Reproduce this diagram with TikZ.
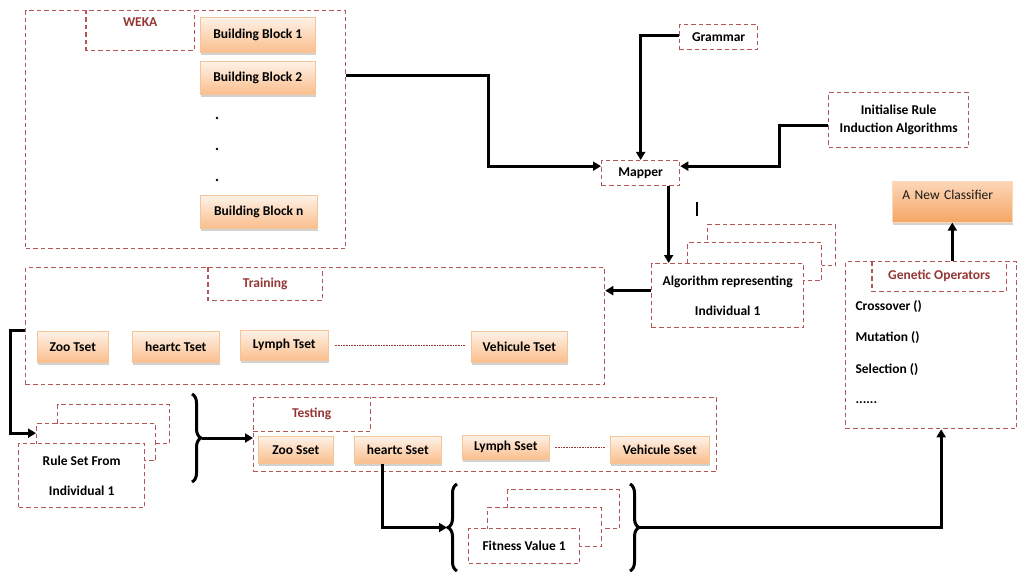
\documentclass[tikz,border=0pt]{standalone}
\usepackage{fontspec}
\setmainfont{Carlito}
\usetikzlibrary{arrows.meta,shadows,decorations.pathreplacing}
\definecolor{dashred}{RGB}{180,86,86}
\definecolor{labred}{RGB}{149,55,53}
\definecolor{blktop}{RGB}{254,242,232}
\definecolor{blkbot}{RGB}{250,190,140}
\definecolor{blkline}{RGB}{246,196,150}
\definecolor{ncTop}{RGB}{252,215,185}
\definecolor{ncBot}{RGB}{246,165,100}
\tikzset{
  fnt/.style={font=\fontsize{13.5}{16}\selectfont\bfseries},
  dline/.style={draw=dashred, dash pattern=on 4.5pt off 3pt, line width=1.3pt},
  dbox/.style={dline, fill=white, inner sep=0pt, anchor=north west, fnt},
  lbox/.style={inner sep=0pt, anchor=north west, fnt, text=labred},
  sz/.style 2 args={minimum width=#1pt, minimum height=#2pt},
  blk/.style={draw=blkline, line width=0.6pt, top color=blktop, bottom color=blkbot,
    drop shadow={shadow xshift=0.5pt, shadow yshift=-2.5pt, opacity=0.35, fill=gray},
    inner sep=0pt, anchor=north west, fnt},
  conn/.style={line width=3pt, -{Triangle[length=8pt,width=9pt]}},
  brc/.style={line width=3pt, decorate, decoration={brace, amplitude=9pt, aspect=0.5}},
  dotline/.style={draw=labred, line width=1pt, dash pattern=on 0.8pt off 0.8pt, shorten <=6pt, shorten >=6pt},
  item/.style={anchor=west, fnt},
  two/.style={align=center, font=\fontsize{13.5}{30}\selectfont\bfseries},
}
\begin{document}
\begin{tikzpicture}[x=1pt,y=-1pt]
\useasboundingbox (0,0) rectangle (1019,572);

% ---------- outer containers ----------
\node[dbox, sz={320}{238}] (weka) at (25,10) {};
\node[dbox, sz={579}{117}] (training) at (25,267) {};
\node[dbox, sz={463}{74}] (testing) at (253,397) {};
\node[dbox, sz={171}{167}] (gen) at (845,261) {};

% ---------- container labels ----------
\node[lbox, sz={108}{40}, text height=9pt, text depth=17pt, inner ysep=7pt] (wekalab) at (86,10) {WEKA};
\draw[dline] (wekalab.north west) -- (wekalab.south west) -- (wekalab.south east) -- (wekalab.north east);
\node[lbox, sz={114}{33}] (trainlab) at (208,267) {Training};
\draw[dline] (trainlab.north west) -- (trainlab.south west) -- (trainlab.south east) -- (trainlab.north east);
\node[lbox, sz={117}{34}] (testlab) at (253,397) {Testing};
\draw[dline] (testlab.south west) -- (testlab.south east) -- (testlab.north east);
\node[lbox, sz={134}{30}] (genlab) at (872,261) {Genetic Operators};
\draw[dline] (genlab.north west) -- (genlab.south west) -- (genlab.south east) -- (genlab.north east);

% ---------- WEKA building blocks ----------
\node[blk, sz={115}{35}] (bb1) at (200,17) {Building Block 1};
\node[blk, sz={115}{33}] (bb2) at (200,61) {Building Block 2};
\node[blk, sz={117}{33}] (bbn) at (200,195) {Building Block n};
\fill (217,118) circle (1.4pt);
\fill (217,149) circle (1.4pt);
\fill (217,180) circle (1.4pt);

% ---------- top right ----------
\node[dbox, sz={78}{25}] (grammar) at (679,24) {Grammar};
\node[dbox, sz={78}{25}] (mapper) at (601,160) {Mapper};
\node[dbox, sz={140}{55}, align=center, font=\fontsize{13.5}{18}\selectfont\bfseries] (init) at (828,92) {Initialise Rule\\Induction Algorithms};
\node[blk, sz={120}{41}, top color=ncTop, bottom color=ncBot, draw=ncTop,
      font=\fontsize{13.5}{16}\selectfont, text=black!90, align=left, text width=100pt,
      inner xsep=10pt, inner ysep=8pt, text height=10pt, text depth=15pt] (nc) at (892,181) {A New Classifier};

% ---------- algorithm stack ----------
\node[dbox, sz={128}{41}] (alg3) at (707,224) {};
\node[dbox, sz={134}{38}] (alg2) at (687,242) {};
\node[dbox, sz={152}{64}, two] (alg) at (651,263) {Algorithm representing\\Individual 1};
\draw[line width=1.6pt] (697,202) -- (697,216);

% ---------- training sets ----------
\node[blk, sz={71}{31}] (zooT) at (37,331) {Zoo Tset};
\node[blk, sz={87}{31}] (heartT) at (132,331) {heartc Tset};
\node[blk, sz={88}{30}] (lymphT) at (240,330) {Lymph Tset};
\node[blk, sz={96}{31}] (vehT) at (471,331) {Vehicule Tset};
\draw[dotline] (lymphT.east) -- (lymphT.east -| vehT.west);

% ---------- rule set stack ----------
\node[dbox, sz={112}{39}] (rs3) at (57,404) {};
\node[dbox, sz={119}{37}] (rs2) at (36,423) {};
\node[dbox, sz={126}{64}, two] (rs) at (18,443) {Rule Set From\\Individual 1};

% ---------- testing sets ----------
\node[blk, sz={75}{27}] (zooS) at (258,436) {Zoo Sset};
\node[blk, sz={87}{27}] (heartS) at (354,436) {heartc Sset};
\node[blk, sz={87}{24}] (lymphS) at (462,435) {Lymph Sset};
\node[blk, sz={99}{27}] (vehS) at (610,436) {Vehicule Sset};
\draw[dotline, shorten <=5pt, shorten >=5pt] (lymphS.east) -- (lymphS.east -| vehS.west);

% ---------- fitness stack ----------
\node[dbox, sz={112}{39}] (fit3) at (507,489) {};
\node[dbox, sz={114}{39}] (fit2) at (487,507) {};
\node[dbox, sz={111}{35}] (fit) at (468,528) {Fitness Value 1};

% ---------- genetic operators items ----------
\node[item] (cross) at (852,307) {Crossover ()};
\node[item] (mut) at (852,338) {Mutation ()};
\node[item] (sel) at (852,370) {Selection ()};
\node[item] (etc) at (852,403) {......};

% ---------- braces ----------
\draw[brc] (192,394) -- (192,482);
\coordinate (b1tip) at (202,438);
\draw[brc] (457,571) -- (457,484);
\coordinate (b2tip) at (447,527.5);
\draw[brc] (630,484) -- (630,571);
\coordinate (b3tip) at (640,527.5);

% ---------- connectors ----------
\coordinate (w1) at ([yshift=-66pt]weka.north east);
\coordinate (mw) at ([yshift=7pt]mapper.west);
\coordinate (me) at ([yshift=7pt]mapper.east);
\draw[conn] (w1) -- ++(142,0) |- (mw);
\draw[conn] ([yshift=1.5pt]grammar.west) -| (mapper.north);
\coordinate (i1) at ([yshift=-5pt]init.west);
\draw[conn] (i1) -- ++(-49,0) |- (me);
\coordinate (m1) at ([xshift=28pt]mapper.south);
\draw[conn] (m1) -- (m1 |- alg.north);
\coordinate (a1) at ([yshift=5pt]alg.west);
\draw[conn] (a1) -- (a1 -| training.east);
\coordinate (t1) at ([yshift=-4.5pt]training.west);
\coordinate (r1) at ([yshift=9pt]rs2.west);
\draw[conn] (t1) -- ++(-15,0) |- (r1);
\draw[conn] (b1tip) -- (b1tip -| testing.west);
\coordinate (h1) at ([xshift=-15pt]heartS.south);
\draw[conn] (h1) |- (b2tip);
\coordinate (g0) at ([xshift=10pt]gen.south);
\draw[conn] (b3tip) -| (g0);
\coordinate (g1) at (nc.south |- genlab.north);
\draw[conn] (g1) -- (nc.south);
\end{tikzpicture}
\end{document}
